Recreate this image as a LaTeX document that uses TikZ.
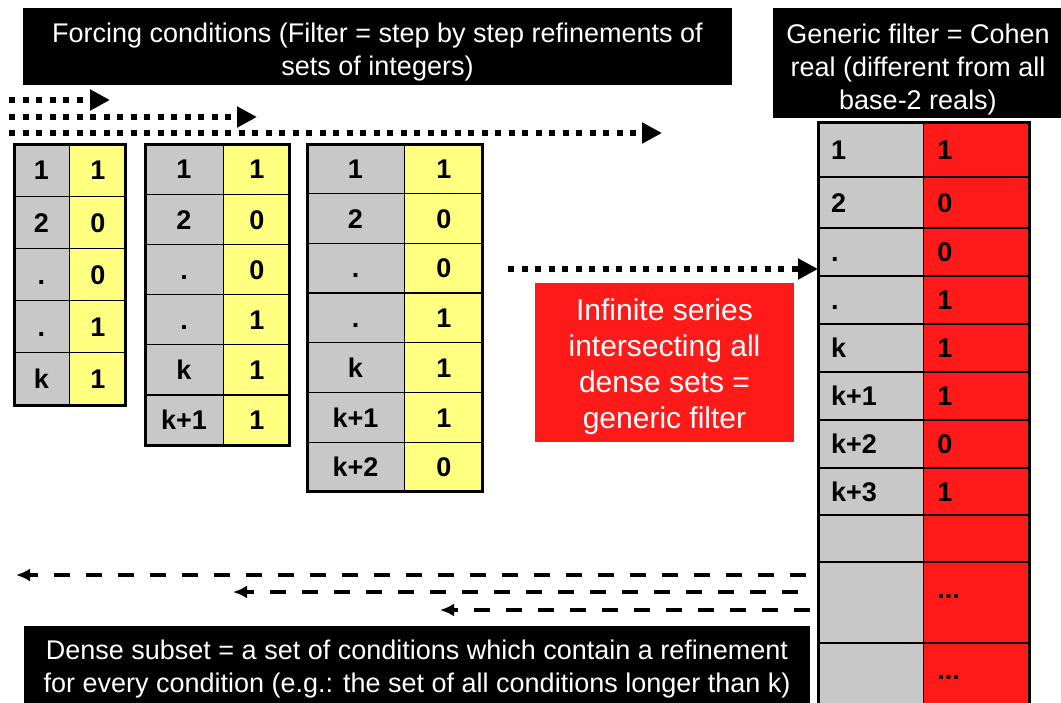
\documentclass[tikz,border=0pt]{standalone}
\usepackage{fontspec}
\setmainfont{Liberation Sans}
\usetikzlibrary{shapes.multipart,chains,arrows.meta,positioning}
\definecolor{cellgray}{HTML}{C8C8C8}
\definecolor{cellyellow}{HTML}{FFFF80}
\definecolor{cellred}{HTML}{FF1A1A}
% cell contents: width, row height, text
\newcommand{\ccell}[3]{\makebox[#1pt]{\rule[\dimexpr9.7pt-#2pt/2\relax]{0pt}{#2pt}#3}}
\newcommand{\lcell}[3]{\makebox[#1pt][l]{\hspace{13pt}\rule[\dimexpr9.7pt-#2pt/2\relax]{0pt}{#2pt}#3}}
\newcommand{\lift}[1]{\rule{0pt}{#1}}
\tikzset{condrow/.style={rectangle split, rectangle split parts=2, rectangle split horizontal, draw, line width=1.3pt, inner sep=0pt, outer sep=0pt, anchor=north west, text=black, font=\fontsize{27}{27}\selectfont\bfseries, rectangle split part fill={cellgray, cellyellow}},
  realrow/.style={condrow, rectangle split part fill={cellgray, cellred}},
  banner/.style={fill=black, text=white, align=center, inner sep=0pt, font=\fontsize{27}{33}\selectfont},
  dotarrow/.style={line width=6pt, dash pattern=on 6pt off 7.5pt, -{Triangle[length=20pt,width=20pt]}},
  dasharrow/.style={line width=4pt, dash pattern=on 16pt off 16pt, -{Latex[length=14pt,width=13pt]}},
  node distance=0pt}

\begin{document}
\begin{tikzpicture}[x=1pt,y=-1pt]
    \useasboundingbox (0,0) rectangle (1061,702);
    % conditions
    \begin{scope}[shift={(14,144)}, start chain=ca going below]
        \foreach \a/\b [count=\i] in {1/1, 2/0, ./0, ./1, k/1}
            \node[condrow, on chain] (ca-\i) {\nodepart{one}\ccell{55}{52.2}{\a}\nodepart{two}\ccell{55}{52.2}{\b}};
    \end{scope}
    \begin{scope}[shift={(145,144)}, start chain=cb going below]
        \foreach \a/\b [count=\i] in {1/1, 2/0, ./0, ./1, k/1, k+1/1}
            \node[condrow, on chain] (cb-\i) {\nodepart{one}\ccell{78}{50.2}{\a}\nodepart{two}\ccell{65}{50.2}{\b}};
    \end{scope}
    \begin{scope}[shift={(307,144)}, start chain=cc going below]
        \foreach \a/\b [count=\i] in {1/1, 2/0, ./0, ./1, k/1, k+1/1, k+2/0}
            \node[condrow, on chain] (cc-\i) {\nodepart{one}\ccell{97}{49.7}{\a}\nodepart{two}\ccell{77}{49.7}{\b}};
    \end{scope}
    \draw[line width=3pt] (ca-1.north west) rectangle (ca-5.south east);
    \draw[line width=3pt] (cb-1.north west) rectangle (cb-6.south east);
    \draw[line width=3pt] (cc-1.north west) rectangle (cc-7.south east);
    % generic filter
    \begin{scope}[shift={(818,122)}, start chain=g going below]
        \foreach \a/\b/\h [count=\i] in {1/1/55, 2/0/51, ./0/48, ./1/48, k/1/48, k+1/1/48, k+2/0/48, k+3/1/47, {}/{}/47, {}/{\raisebox{14pt}{...}}/81, {}/{\raisebox{14pt}{...}}/81}
            \node[realrow, on chain] (g\i) {\nodepart{one}\lcell{105}{\h}{\a}\nodepart{two}\lcell{105}{\h}{\b}};
    \end{scope}
    \draw[line width=3pt] (g1.north west) rectangle (g11.south east);

    \node[banner, minimum width=709pt, minimum height=77pt] (forcing) at (377.5,46.5) {\lift{31pt}Forcing conditions (Filter = step by step refinements of\\sets of integers)};
    \node[banner, minimum width=290pt, minimum height=110pt] (generic) at (918,63) {\lift{32pt}Generic filter = Cohen\\real (different from all\\base-2 reals)};
    \node[banner, fill=cellred, font=\fontsize{30}{36}\selectfont, minimum width=259pt, minimum height=159pt] (series) at (664.5,362.5) {\lift{30pt}Infinite series\\intersecting all\\dense sets =\\generic filter};
    \node[banner, minimum width=786pt, minimum height=86pt] (dense) at (417,669) {Dense subset = a set of conditions which contain a refinement\\for every condition (e.g.: the set of all conditions longer than k)};

    % refinement steps
    \coordinate (s1) at (9,100);   \coordinate (e1) at (110,100);
    \coordinate (s2) at (9,117);   \coordinate (e2) at (257,117);
    \coordinate (s3) at (9,133);   \coordinate (e3) at (662,133);
    \coordinate (sm) at (508,269);
    \draw[dotarrow] (s1) -- (e1);
    \draw[dotarrow] (s2) -- (e2);
    \draw[dotarrow] (s3) -- (e3);
    \draw[dotarrow] (sm) -- (sm -| g3.west);
    % dense sets
    \coordinate (d1) at (806,575);  \coordinate (f1) at (16,575);
    \coordinate (d2) at (798,592);  \coordinate (f2) at (233,592);
    \coordinate (d3) at (810,610);  \coordinate (f3) at (440,610);
    \draw[dasharrow] (d1) -- (f1);
    \draw[dasharrow] (d2) -- (f2);
    \draw[dasharrow] (d3) -- (f3);
\end{tikzpicture}
\end{document}
